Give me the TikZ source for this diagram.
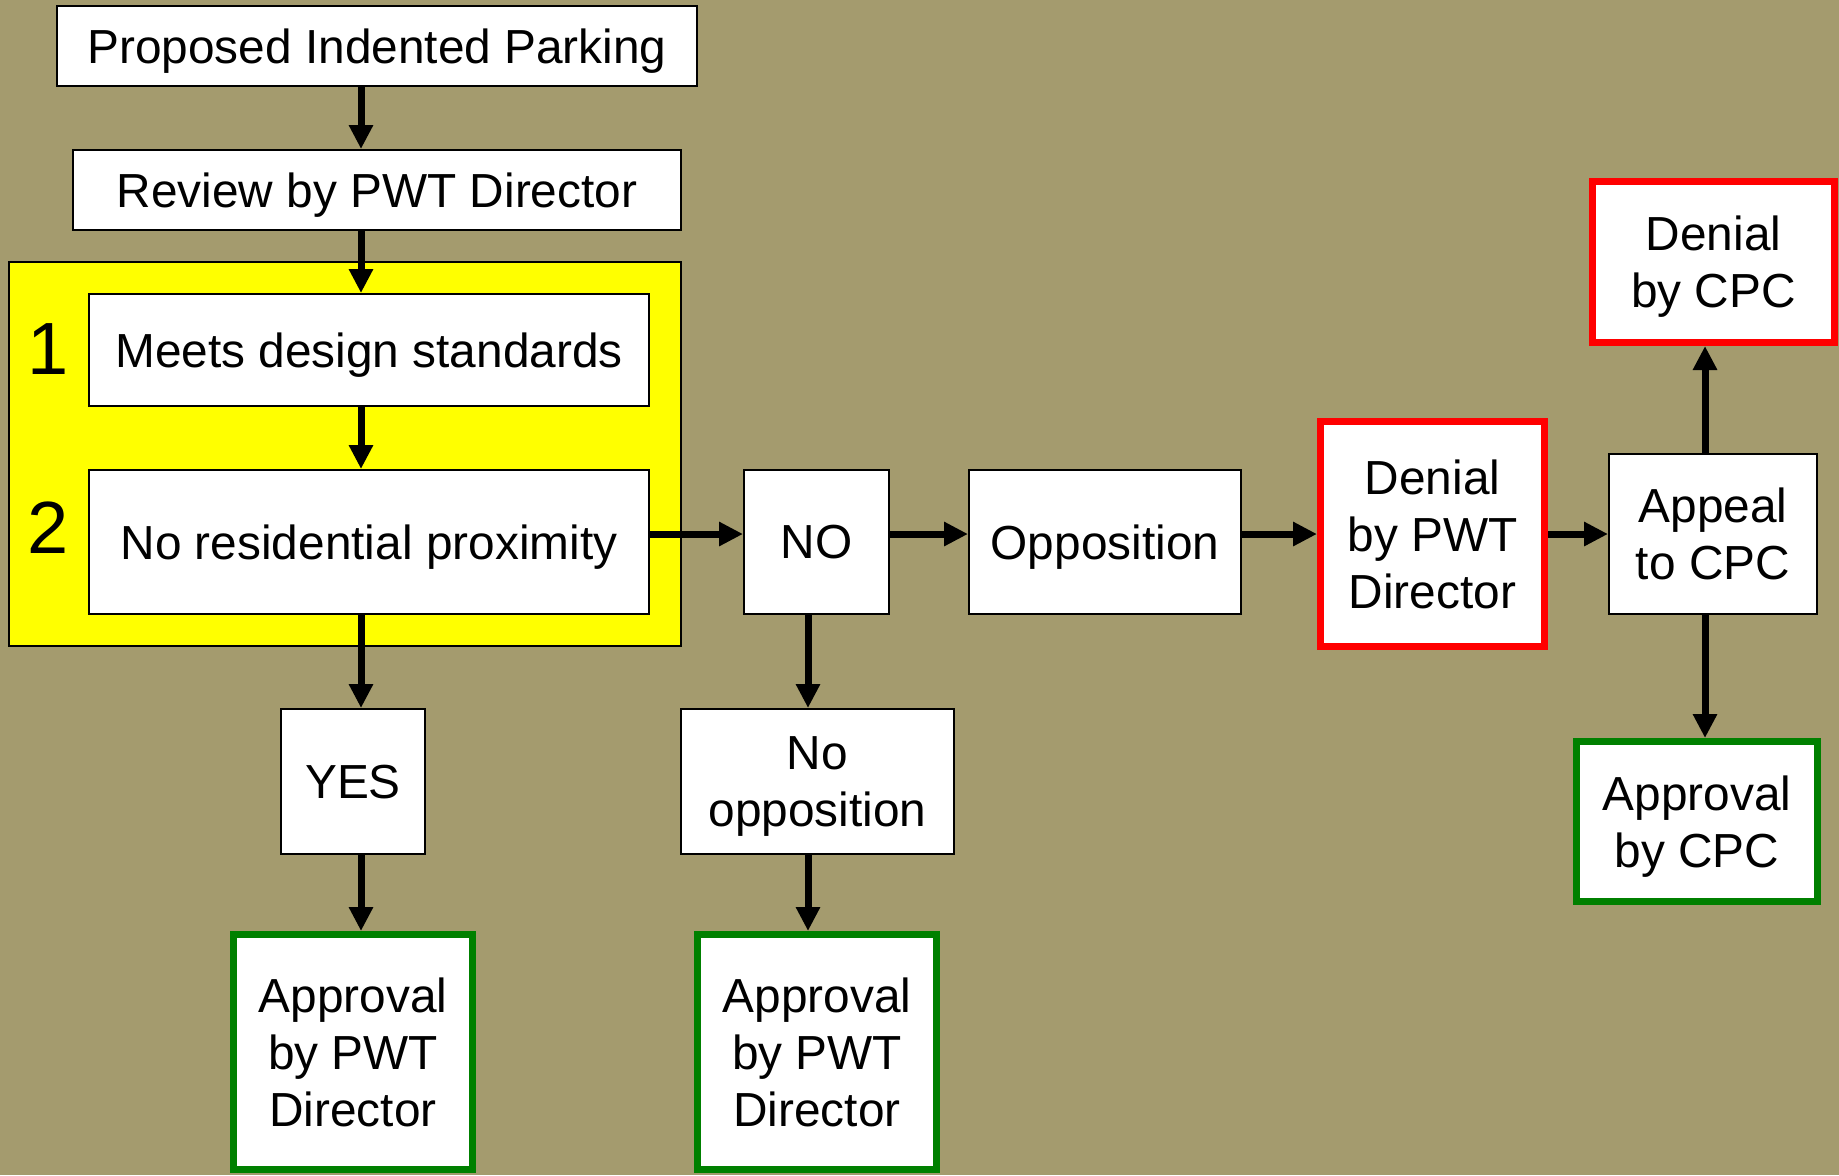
\documentclass[tikz,border=0pt]{standalone}
\usepackage{fontspec}
\setmainfont{Liberation Sans}
\usetikzlibrary{arrows.meta}
\definecolor{bgtan}{RGB}{164,155,110}
\definecolor{denyred}{RGB}{255,0,0}
\definecolor{okgreen}{RGB}{0,128,0}
\definecolor{crityellow}{RGB}{255,255,0}
\tikzset{
  box/.style={rectangle,draw,fill=white,line width=1pt,inner sep=0pt,align=center,
    text depth=0pt,font=\fontsize{23.9}{28.5}\selectfont},
  denied/.style={box,draw=denyred,line width=3.5pt},
  approved/.style={box,draw=okgreen,line width=3.5pt},
  flow/.style={line width=3.5pt},
}
\begin{document}
\begin{tikzpicture}[x=0.5pt,y=-0.5pt,>={Triangle[length=12pt,width=11.5pt]}]
			\useasboundingbox (0,0) rectangle (1839,1175);
			\fill[bgtan] (0,0) rectangle (1839,1175);

			\coordinate (col1) at (361,0);
			\coordinate (col2) at (808,0);
			\coordinate (col3) at (1705,0);
			\coordinate (row) at (0,534);

			\node[rectangle,draw,fill=crityellow,line width=1pt,minimum width=336pt,minimum height=192pt] (crit) at (345,454) {};
			\node[font=\fontsize{37}{37}\selectfont] (one) at (48,349) {1};
			\node[font=\fontsize{37}{37}\selectfont] (two) at (48,528) {2};

			\node[box,minimum width=320pt,minimum height=40pt] (prop) at (377,46) {Proposed Indented Parking};
			\node[box,minimum width=304pt,minimum height=40pt] (rev) at (377,190) {Review by PWT Director};
			\node[box,minimum width=280pt,minimum height=56pt] (meets) at (369,350) {Meets design standards};
			\node[box,minimum width=280pt,minimum height=72pt] (nores) at (369,542) {No residential proximity};
			\node[box,minimum width=72.5pt,minimum height=72pt] (no) at (816.5,542) {NO};
			\node[box,minimum width=136pt,minimum height=72pt] (opp) at (1105,542) {Opposition};
			\node[denied,minimum width=112pt,minimum height=112.5pt] (denpwt) at (1432.5,534) {Denial\\by PWT\\Director};
			\node[box,minimum width=104pt,minimum height=80pt] (appeal) at (1713,534) {Appeal\\to CPC};
			\node[denied,minimum width=121pt,minimum height=80.5pt] (dencpc) at (1713.5,262) {Denial\\by CPC};
			\node[approved,minimum width=120.5pt,minimum height=80pt] (okcpc) at (1697,821.5) {Approval\\by CPC};
			\node[box,minimum width=72pt,minimum height=72.5pt] (yes) at (353,781.5) {YES};
			\node[box,minimum width=136.5pt,minimum height=72.5pt] (noopp) at (817.5,781.5) {No\\opposition};
			\node[approved,minimum width=119.5pt,minimum height=117.5pt] (okyes) at (353,1052) {Approval\\by PWT\\Director};
			\node[approved,minimum width=119.5pt,minimum height=117.5pt] (oknoopp) at (817,1052) {Approval\\by PWT\\Director};

			\path[->,draw,flow] (prop.south -| col1) -- (rev.north -| col1);
			\path[->,draw,flow] (rev.south -| col1) -- (meets.north -| col1);
			\path[->,draw,flow] (meets.south -| col1) -- (nores.north -| col1);
			\path[->,draw,flow] (nores.south -| col1) -- (yes.north -| col1);
			\path[->,draw,flow] (yes.south -| col1) -- (okyes.north -| col1);
			\path[->,draw,flow] (nores.east |- row) -- (no.west |- row);
			\path[->,draw,flow] (no.east |- row) -- (opp.west |- row);
			\path[->,draw,flow] (opp.east |- row) -- (denpwt.west |- row);
			\path[->,draw,flow] (denpwt.east |- row) -- (appeal.west |- row);
			\path[->,draw,flow] (no.south -| col2) -- (noopp.north -| col2);
			\path[->,draw,flow] (noopp.south -| col2) -- (oknoopp.north -| col2);
			\path[->,draw,flow] (appeal.north -| col3) -- (dencpc.south -| col3);
			\path[->,draw,flow] (appeal.south -| col3) -- (okcpc.north -| col3);
		\end{tikzpicture}
\end{document}
